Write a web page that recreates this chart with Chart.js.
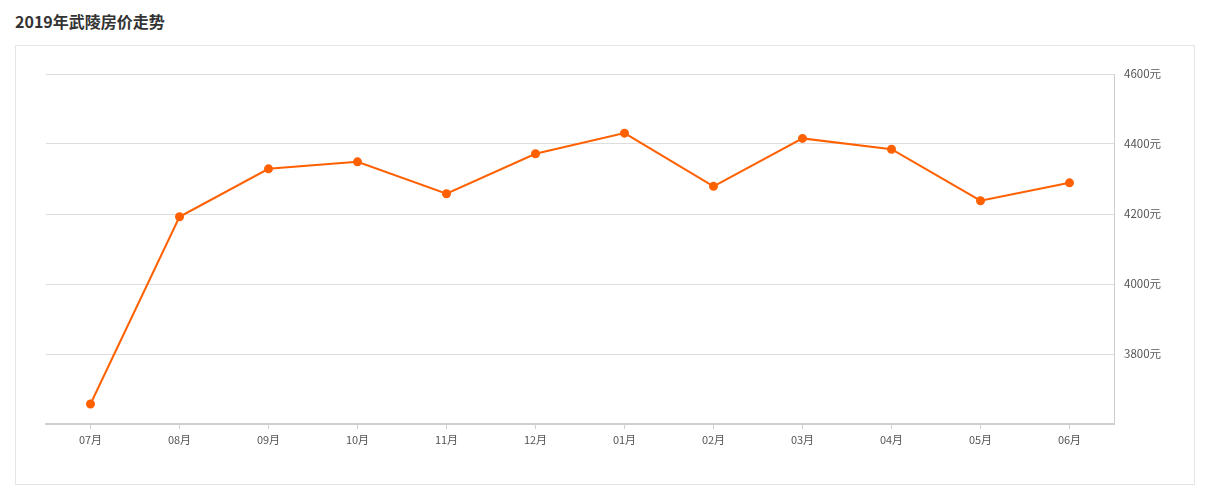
<!DOCTYPE html>
<html>
<head>
<meta charset="utf-8">
<script src="https://cdn.jsdelivr.net/npm/chart.js@4/dist/chart.umd.min.js"></script>
<style>
  body { margin: 0; background: #fff; font-family: "Noto Sans CJK SC", "Noto Sans", sans-serif; }
  #title { position: absolute; left: 15px; top: 9px; font-size: 16px; font-weight: bold; color: #333; }
  #box { position: absolute; left: 15px; top: 45px; width: 1178px; height: 438px; border: 1px solid #e5e5e5; }
</style>
</head>
<body>
<div id="title">2019年武陵房价走势</div>
<div id="box"><canvas id="myChart" width="1178" height="438"></canvas></div>
<script>
let months = ['07月', '08月', '09月', '10月', '11月', '12月', '01月', '02月', '03月', '04月', '05月', '06月'];
let prices = [3657, 4192, 4329, 4349, 4258, 4372, 4431, 4279, 4416, 4385, 4238, 4289];
let lineColor = '#ff6000';

let ctx = document.getElementById("myChart").getContext('2d');

let chart = new Chart(ctx, {
    type: 'line',
    data: {
        labels: months,
        datasets: [ {
            data: prices,
            borderColor: lineColor,
            backgroundColor: lineColor,
            pointBackgroundColor: lineColor,
            pointBorderColor: lineColor,
            pointRadius: 3.5,
            borderWidth: 2,
            tension: 0
        }]
    },
    options: {
        responsive: false,
        animation: false,
        layout: { padding: { left: 30, top: 28, right: 0, bottom: 0 } },
        plugins: {
            legend: { display: false },
            tooltip: { enabled: false }
        },
        scales: {
            x: {
                offset: true,
                grid: { drawOnChartArea: false, drawTicks: true, tickLength: 5, color: '#d0d0d0' },
                border: { color: '#d0d0d0', width: 2 },
                ticks: { color: '#555', font: { size: 11, family: 'Noto Sans CJK SC' }, padding: 4 },
                afterFit: function (scale) { scale.height = 60; }
            },
            y: {
                position: 'right',
                min: 3600,
                max: 4600,
                grid: { color: '#dddddd', drawTicks: false },
                border: { color: '#cccccc', width: 1 },
                ticks: {
                    stepSize: 200,
                    padding: 10,
                    color: '#555',
                    font: { size: 11.5, family: 'Noto Sans CJK SC' },
                    callback: function (v) { return v === 3600 ? '' : v + '元'; }
                },
                afterFit: function (scale) { scale.width = 80; }
            }
        }
    }
});
</script>
</body>
</html>
